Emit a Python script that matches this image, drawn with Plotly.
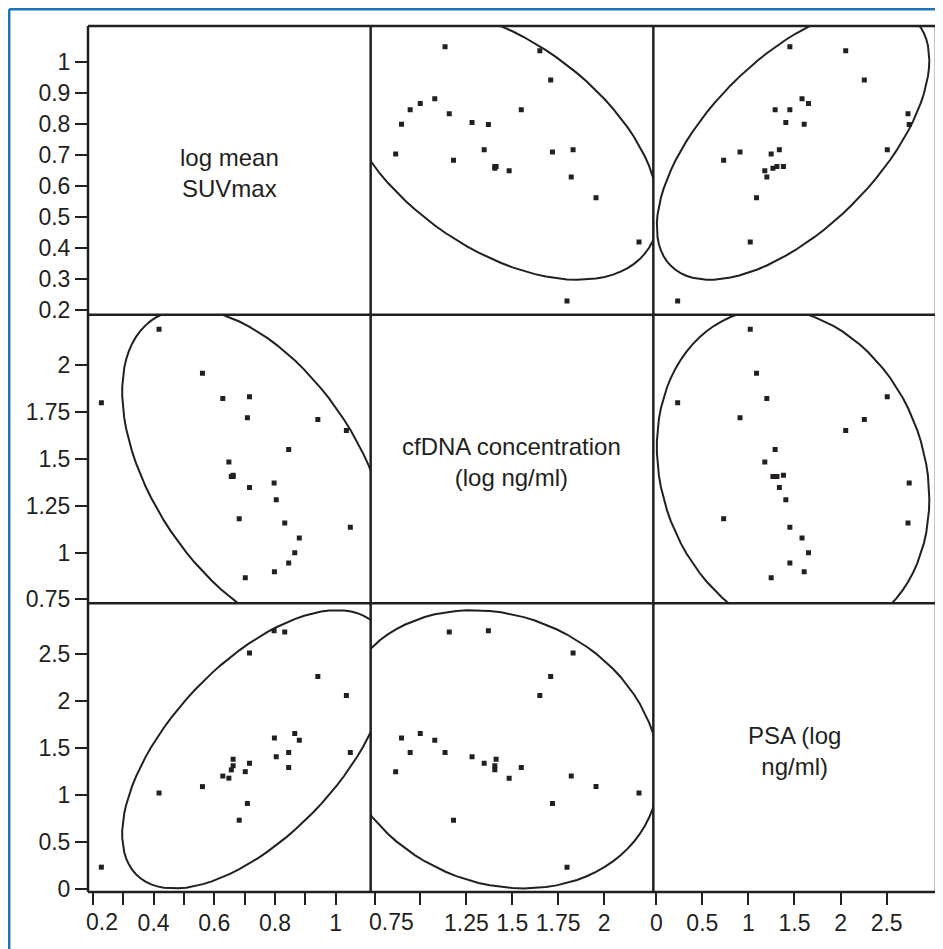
import numpy as np
import plotly.graph_objects as go
from plotly.subplots import make_subplots

# ---- data ----
suv_log_mean = [0.228, 0.418, 0.561, 0.628, 0.648, 0.656, 0.662, 0.662, 0.682, 0.702, 0.709, 0.716,
                0.716, 0.797, 0.798, 0.804, 0.832, 0.845, 0.845, 0.865, 0.880, 0.941, 1.035, 1.048]
cfdna_log = [1.798, 2.190, 1.956, 1.821, 1.483, 1.405, 1.405, 1.412, 1.180, 0.865, 1.719, 1.831,
             1.347, 1.370, 0.897, 1.281, 1.157, 1.549, 0.944, 0.999, 1.078, 1.709, 1.650, 1.134]
psa_log = [0.232, 1.020, 1.088, 1.200, 1.178, 1.266, 1.310, 1.380, 0.731, 1.247, 0.909, 2.507,
           1.336, 2.745, 1.605, 1.406, 2.732, 1.290, 1.450, 1.652, 1.582, 2.258, 2.056, 1.450]

var_labels = ["log mean<br>SUVmax", "cfDNA concentration<br>(log ng/ml)", "PSA (log<br>ng/ml)"]

axis_ranges = [[0.184, 1.115], [0.729, 2.268], [-0.032, 3.036]]

y_tickvals = [[0.2, 0.3, 0.4, 0.5, 0.6, 0.7, 0.8, 0.9, 1.0],
              [0.75, 1.0, 1.25, 1.5, 1.75, 2.0],
              [0, 0.5, 1.0, 1.5, 2.0, 2.5]]
y_ticktext = [["0.2", "0.3", "0.4", "0.5", "0.6", "0.7", "0.8", "0.9", "1"],
              ["0.75", "1", "1.25", "1.5", "1.75", "2"],
              ["0", "0.5", "1", "1.5", "2", "2.5"]]

x_tickvals = [[0.2, 0.3, 0.4, 0.5, 0.6, 0.7, 0.8, 0.9, 1.0],
              [0.75, 1.0, 1.25, 1.5, 1.75, 2.0],
              [0, 0.5, 1.0, 1.5, 2.0, 2.5]]
x_ticktext = [["0.2", "", "0.4", "", "0.6", "", "0.8", "", "1"],
              ["0.75", "", "1.25", "1.5", "1.75", "2"],
              ["0", "0.5", "1", "1.5", "2", "2.5"]]
# first label of a column is nudged right (px) so it stays inside its panel
x_first_label_nudge = [9, 17, 0]

ellipse_coverage = 0.95

variables = [suv_log_mean, cfdna_log, psa_log]

INK = "#231f20"
FONT = "Liberation Sans, Arial, sans-serif"
TICK_SIZE = 23
DIAG_SIZE = 24
BORDER_W = 2.5

fig = make_subplots(rows=3, cols=3, horizontal_spacing=0, vertical_spacing=0)


def density_ellipse(x, y, coverage, n=90):
    x = np.asarray(x, float)
    y = np.asarray(y, float)
    m = np.array([x.mean(), y.mean()])
    cov = np.cov(np.vstack([x, y]))
    L = np.linalg.cholesky(cov)
    r = np.sqrt(-2.0 * np.log(1.0 - coverage))
    t = np.linspace(0, 2 * np.pi, n)
    circ = np.vstack([np.cos(t), np.sin(t)])
    pts = m[:, None] + r * (L @ circ)
    return pts[0], pts[1]


for r in range(3):
    for c in range(3):
        if r == c:
            mid_x = sum(axis_ranges[c]) / 2
            mid_y = sum(axis_ranges[r]) / 2
            fig.add_trace(go.Scatter(x=[mid_x], y=[mid_y], mode="markers",
                                     marker=dict(opacity=0, size=1),
                                     hoverinfo="skip", showlegend=False),
                          row=r + 1, col=c + 1)
            continue
        xs = variables[c]
        ys = variables[r]
        ex, ey = density_ellipse(xs, ys, ellipse_coverage)
        fig.add_trace(go.Scatter(x=ex, y=ey, mode="lines",
                                 line=dict(color=INK, width=2),
                                 hoverinfo="skip", showlegend=False),
                      row=r + 1, col=c + 1)
        fig.add_trace(go.Scatter(x=xs, y=ys, mode="markers",
                                 marker=dict(symbol="square", size=5, color=INK,
                                             line=dict(width=0)),
                                 showlegend=False),
                      row=r + 1, col=c + 1)

for r in range(3):
    for c in range(3):
        xa = dict(range=axis_ranges[c], showgrid=False, zeroline=False,
                  showline=False, fixedrange=True)
        ya = dict(range=axis_ranges[r], showgrid=False, zeroline=False,
                  showline=False, fixedrange=True)
        if r == 2:
            labels = list(x_ticktext[c])
            if x_first_label_nudge[c]:
                labels[0] = ""
            xa.update(tickmode="array", tickvals=x_tickvals[c], ticktext=labels,
                      ticks="outside", ticklen=12, tickwidth=2, tickcolor=INK,
                      showticklabels=True, ticklabelstandoff=-2,
                      tickfont=dict(family=FONT, size=TICK_SIZE, color=INK))
        else:
            xa.update(showticklabels=False, ticks="")
        if c == 0:
            ya.update(tickmode="array", tickvals=y_tickvals[r], ticktext=y_ticktext[r],
                      ticks="outside", ticklen=12, tickwidth=2, tickcolor=INK,
                      showticklabels=True,
                      tickfont=dict(family=FONT, size=TICK_SIZE, color=INK))
        else:
            ya.update(showticklabels=False, ticks="")
        fig.update_xaxes(xa, row=r + 1, col=c + 1)
        fig.update_yaxes(ya, row=r + 1, col=c + 1)

# diagonal variable names
for i in range(3):
    idx = i * 3 + i + 1
    sfx = "" if idx == 1 else str(idx)
    fig.add_annotation(x=sum(axis_ranges[i]) / 2, y=sum(axis_ranges[i]) / 2,
                       xref=f"x{sfx}", yref=f"y{sfx}", yshift=-3,
                       text=var_labels[i], showarrow=False, align="center",
                       font=dict(family=FONT, size=DIAG_SIZE, color=INK))

# nudged first tick labels of the bottom axes
for c in range(3):
    if not x_first_label_nudge[c]:
        continue
    idx = 6 + c + 1
    fig.add_annotation(x=x_tickvals[c][0], y=0, xref=f"x{idx}", yref="paper",
                       text=x_ticktext[c][0], showarrow=False,
                       xanchor="center", yanchor="middle",
                       xshift=x_first_label_nudge[c], yshift=-30,
                       font=dict(family=FONT, size=TICK_SIZE, color=INK))

# panel frame lines (single lines shared by neighbouring panels)
for k in range(4):
    pos = k / 3
    fig.add_shape(type="line", xref="paper", yref="paper", layer="above",
                  x0=pos, x1=pos, y0=0, y1=1,
                  line=dict(color=INK, width=BORDER_W))
    fig.add_shape(type="line", xref="paper", yref="paper", layer="above",
                  x0=0, x1=1, y0=pos, y1=pos,
                  line=dict(color=INK, width=BORDER_W))

# page has an 8px body margin; figure is sized to end at the window edge
OFF = 8
W, H = 943 - OFF, 949 - OFF
ml, mr, mt, mb = 88 - OFF, 7, 26 - OFF, 57
pw, ph = W - ml - mr, H - mt - mb


def px_to_paper_x(px):
    return (px - ml) / pw


def px_to_paper_y(py):
    return (H - mb - py) / ph


BLUE = "#1a74bb"
fig.add_shape(type="line", xref="paper", yref="paper",
              x0=px_to_paper_x(1.2), x1=px_to_paper_x(W), y0=px_to_paper_y(1.2), y1=px_to_paper_y(1.2),
              line=dict(color=BLUE, width=2.5))
fig.add_shape(type="line", xref="paper", yref="paper",
              x0=px_to_paper_x(1.2), x1=px_to_paper_x(1.2), y0=px_to_paper_y(1.2), y1=px_to_paper_y(H),
              line=dict(color=BLUE, width=2.5))

fig.update_layout(width=W, height=H,
                  margin=dict(l=ml, r=mr, t=mt, b=mb, pad=0),
                  paper_bgcolor="white", plot_bgcolor="white",
                  font=dict(family=FONT, color=INK),
                  showlegend=False)

fig.write_html("out.html")
